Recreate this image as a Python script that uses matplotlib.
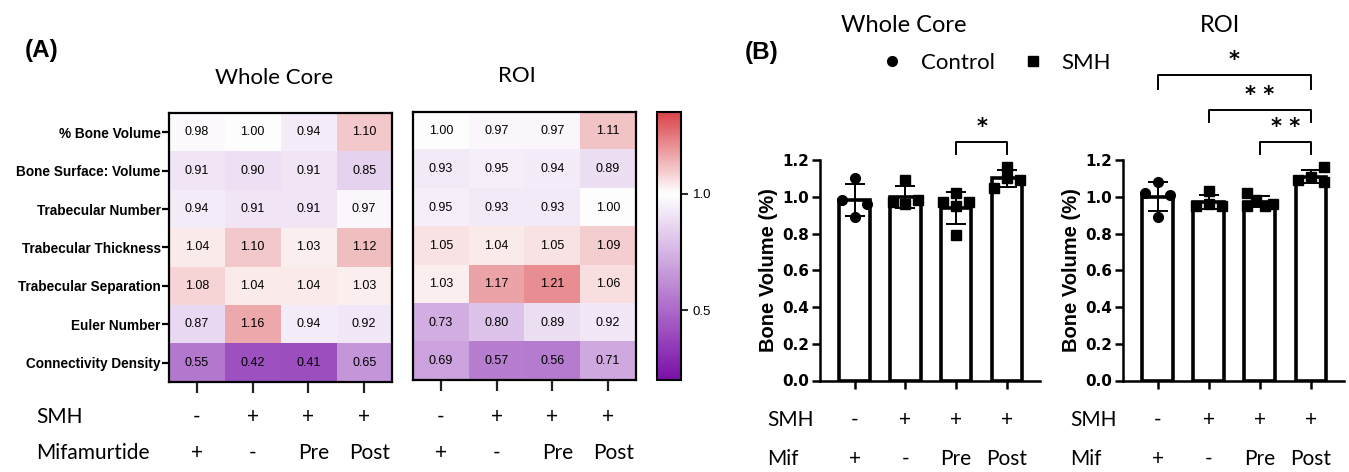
import numpy as np
import matplotlib
matplotlib.use("Agg")
import matplotlib.pyplot as plt
from matplotlib.colors import LinearSegmentedColormap, Normalize
from matplotlib.transforms import blended_transform_factory
from matplotlib.lines import Line2D

# ---- data ----
row_names = ["% Bone Volume", "Bone Surface: Volume", "Trabecular Number",
             "Trabecular Thickness", "Trabecular Separation", "Euler Number",
             "Connectivity Density"]
smh_labels = ["-", "+", "+", "+"]
mif_labels = ["+", "-", "Pre", "Post"]

whole_core = [[0.98, 1.00, 0.94, 1.10],
              [0.91, 0.90, 0.91, 0.85],
              [0.94, 0.91, 0.91, 0.97],
              [1.04, 1.10, 1.03, 1.12],
              [1.08, 1.04, 1.04, 1.03],
              [0.87, 1.16, 0.94, 0.92],
              [0.55, 0.42, 0.41, 0.65]]
roi = [[1.00, 0.97, 0.97, 1.11],
       [0.93, 0.95, 0.94, 0.89],
       [0.95, 0.93, 0.93, 1.00],
       [1.05, 1.04, 1.05, 1.09],
       [1.03, 1.17, 1.21, 1.06],
       [0.73, 0.80, 0.89, 0.92],
       [0.69, 0.57, 0.56, 0.71]]

# bone volume points per group (first group = Control, others = SMH)
bv_whole = [[1.10, 0.98, 0.96, 0.89],
            [1.09, 0.97, 0.96, 0.98],
            [1.02, 0.97, 0.97, 0.95, 0.79],
            [1.16, 1.05, 1.10, 1.09]]
bv_roi = [[1.08, 1.02, 1.01, 0.89],
          [1.03, 0.95, 0.96, 0.95],
          [1.02, 0.98, 0.95, 0.95, 0.96],
          [1.16, 1.11, 1.09, 1.08]]
# horizontal scatter of the points inside each bar
jit_whole = [[0, -0.25, 0.25, 0], [0, -0.25, 0, 0.25],
             [0, -0.25, 0.25, 0, 0], [0, -0.25, 0, 0.25]]
jit_roi = [[0, -0.25, 0.25, 0], [0, -0.25, 0, 0.25],
           [-0.25, -0.08, -0.25, 0.1, 0.25], [0.25, 0, -0.25, 0.25]]

# significance brackets: (group a, group b, stars)
sig_whole = [(2, 3, "*")]
sig_roi = [(0, 3, "*"), (1, 3, "**"), (2, 3, "**")]

ARIAL = "Liberation Sans"
CALI = "Lato"

W, H = 1349, 472
fig = plt.figure(figsize=(W / 100, H / 100), dpi=100)

cmap = LinearSegmentedColormap.from_list(
    "pw", [(0.0, "#7a10a8"), (0.8 / 1.15, "#ffffff"), (1.0, "#d9434a")])
norm = Normalize(vmin=0.2, vmax=1.35)


def px(x0, y0, x1, y1):
    return [x0 / W, 1 - y1 / H, (x1 - x0) / W, (y1 - y0) / H]


def heatmap(ax, data, show_rows):
    data = np.array(data)
    ax.imshow(data, cmap=cmap, norm=norm, aspect="auto")
    for i in range(data.shape[0]):
        for j in range(data.shape[1]):
            ax.text(j, i, f"{data[i, j]:.2f}", ha="center", va="center",
                    fontsize=9, family=ARIAL)
    ax.set_xticks(range(4))
    ax.set_xticklabels([])
    ax.tick_params(axis="x", length=8, width=1.6, color="#222222")
    if show_rows:
        ax.set_yticks(range(len(row_names)))
        ax.set_yticklabels(row_names, fontsize=9.8, fontweight="bold",
                           family=ARIAL)
        ax.tick_params(axis="y", length=5, width=1.6, pad=1)
    else:
        ax.set_yticks([])
    for s in ax.spines.values():
        s.set_linewidth(1.6)
    tr = blended_transform_factory(ax.transData, fig.transFigure)
    for j in range(4):
        ax.text(j, 1 - 417 / H, smh_labels[j], transform=tr, ha="center",
                va="center", fontsize=15, family=CALI)
        ax.text(j + (0.1 if len(mif_labels[j]) > 1 else 0), 1 - 453 / H,
                mif_labels[j], transform=tr, ha="center", va="center",
                fontsize=15, family=CALI)


# ---- panel A ----
ax1 = fig.add_axes(px(169, 113, 392, 382))
heatmap(ax1, whole_core, True)
ax2 = fig.add_axes(px(413, 112, 636, 380))
heatmap(ax2, roi, False)
cax = fig.add_axes(px(657, 112, 681, 380))
cb = fig.colorbar(plt.cm.ScalarMappable(norm=norm, cmap=cmap), cax=cax)
cb.set_ticks([0.5, 1.0])
cb.ax.tick_params(labelsize=9.5, length=5, width=1.2)
for t in cb.ax.get_yticklabels():
    t.set_family(ARIAL)
cb.outline.set_linewidth(1.5)

fig.text(25 / W, 1 - 50 / H, "(A)", fontsize=17.5, fontweight="bold",
         family=ARIAL, va="center")
fig.text(274 / W, 1 - 78 / H, "Whole Core", fontsize=16, family=CALI,
         ha="center", va="center")
fig.text(517 / W, 1 - 76 / H, "ROI", fontsize=16, family=CALI,
         ha="center", va="center")
fig.text(36 / W, 1 - 417 / H, "SMH", fontsize=15, family=CALI, va="center")
fig.text(36 / W, 1 - 453 / H, "Mifamurtide", fontsize=15, family=CALI,
         va="center")


# ---- panel B ----
def bar_panel(ax, pts, jit, sig):
    xs = np.arange(len(pts))
    means = [np.mean(p) for p in pts]
    sds = [np.std(p, ddof=1) for p in pts]
    ax.bar(xs, means, width=0.6, color="white", edgecolor="black",
           linewidth=2.6, zorder=2)
    ax.errorbar(xs, means, yerr=sds, fmt="none", ecolor="black",
                elinewidth=1.4, capsize=7, capthick=1.4, zorder=3)
    for k, (p, jj) in enumerate(zip(pts, jit)):
        mk = "o" if k == 0 else "s"
        ax.plot(k + np.array(jj), p, mk, color="black", markersize=7,
                linestyle="none", zorder=4)
    ax.set_xlim(-0.68, 3.65)
    ax.set_ylim(0, 1.2)
    ax.set_yticks([0.0, 0.2, 0.4, 0.6, 0.8, 1.0, 1.2])
    ax.set_yticklabels([f"{v:.1f}" for v in ax.get_yticks()],
                       fontweight="bold", family="DejaVu Sans", fontsize=11)
    ax.set_xticks(xs)
    ax.set_xticklabels([])
    ax.tick_params(axis="both", length=6, width=1.8, pad=2)
    ax.spines[["top", "right"]].set_visible(False)
    ax.spines[["left", "bottom"]].set_linewidth(1.8)
    ax.set_ylabel("Bone Volume (%)", fontweight="bold", family=ARIAL,
                  fontsize=14.5)
    ax.yaxis.set_label_coords(-0.19, 0.5)
    # brackets
    levels = [(1.298, 1.232), (1.472, 1.407), (1.665, 1.585)]
    for n, (a, b, stars) in enumerate(sorted(sig, key=lambda s: -s[0])):
        top, leg = levels[n]
        ax.plot([a, a, b, b], [leg, top, top, leg], color="black", lw=1.4,
                clip_on=False)
        ax.text((a + b) / 2, top + 0.025, " ".join(stars), ha="center",
                va="bottom", fontsize=15, fontweight="bold",
                family="DejaVu Sans", clip_on=False)
    tr = blended_transform_factory(ax.transData, fig.transFigure)
    for j in range(4):
        ax.text(j, 1 - 420 / H, smh_labels[j], transform=tr, ha="center",
                va="center", fontsize=15, family=CALI)
        ax.text(j, 1 - 459 / H, mif_labels[j], transform=tr, ha="center",
                va="center", fontsize=15, family=CALI)
    ax.text(-1.72, 1 - 420 / H, "SMH", transform=tr, ha="left",
            va="center", fontsize=15, family=CALI)
    ax.text(-1.72, 1 - 459 / H, "Mif", transform=tr, ha="left",
            va="center", fontsize=15, family=CALI)


ax3 = fig.add_axes(px(820, 160, 1040, 380.5))
bar_panel(ax3, bv_whole, jit_whole, sig_whole)
ax4 = fig.add_axes(px(1123, 160, 1344, 380.5))
bar_panel(ax4, bv_roi, jit_roi, sig_roi)

fig.text(745 / W, 1 - 52 / H, "(B)", fontsize=17.5, fontweight="bold",
         family=ARIAL, va="center")
fig.text(904 / W, 1 - 25 / H, "Whole Core", fontsize=17, family=CALI,
         ha="center", va="center")
fig.text(1220 / W, 1 - 25 / H, "ROI", fontsize=17, family=CALI,
         ha="center", va="center")
handles = [Line2D([], [], marker="o", color="black", linestyle="none",
                  markersize=7),
           Line2D([], [], marker="s", color="black", linestyle="none",
                  markersize=7)]
fig.legend(handles, ["Control", "SMH"], loc="center",
           bbox_to_anchor=(996 / W, 1 - 63 / H), ncol=2, frameon=False,
           prop={"family": CALI, "size": 16}, handlelength=1.0,
           handletextpad=0.8, columnspacing=1.2)

fig.savefig("out.png", dpi=100)
